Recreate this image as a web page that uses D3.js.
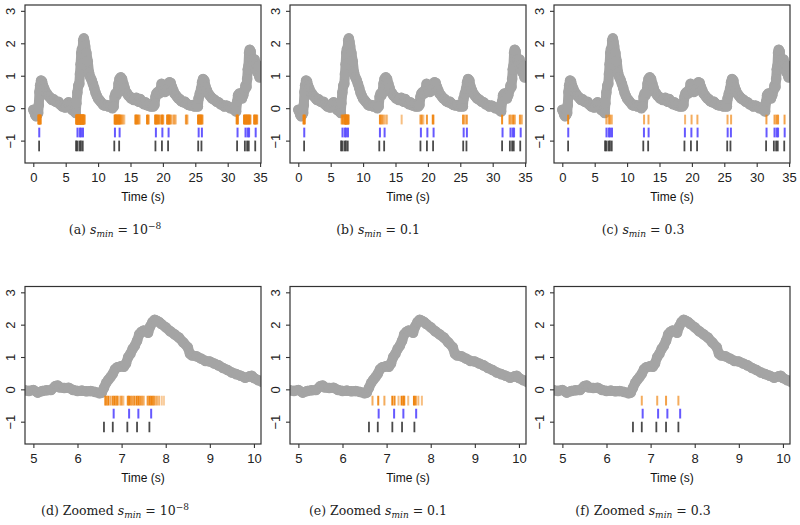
<!DOCTYPE html>
<html><head><meta charset="utf-8">
<script src="https://cdn.jsdelivr.net/npm/d3@7"></script>
<style>body{margin:0;background:#fff}</style>
</head><body><svg id="chart" width="800" height="525"></svg>
<script>
// ---------- data ----------
const fullTime = [0.0,0.15,0.3,0.45,0.6,0.75,0.85,0.95,1.05,1.2,1.35,1.5,1.7,1.9,2.1,2.3,2.5,2.7,2.9,3.1,3.3,3.5,3.7,3.9,4.1,4.3,4.5,4.7,4.9,5.1,5.3,5.45,5.6,5.8,6.0,6.2,6.4,6.55,6.65,6.8,6.95,7.1,7.2,7.3,7.4,7.5,7.6,7.7,7.8,7.9,8.0,8.2,8.4,8.6,8.8,9.0,9.2,9.4,9.6,9.8,10.0,10.2,10.4,10.6,10.8,11.0,11.3,11.6,11.9,12.2,12.4,12.55,12.7,12.85,13.0,13.15,13.3,13.5,13.7,13.9,14.1,14.3,14.5,14.7,14.9,15.1,15.3,15.5,15.7,15.9,16.1,16.3,16.5,16.7,16.9,17.1,17.3,17.5,17.7,17.9,18.1,18.3,18.5,18.7,18.85,19.0,19.2,19.4,19.6,19.8,19.95,20.1,20.3,20.5,20.7,20.85,21.0,21.2,21.4,21.6,21.8,22.0,22.2,22.4,22.6,22.8,23.0,23.2,23.4,23.6,23.8,24.0,24.3,24.6,24.9,25.2,25.4,25.5,25.7,25.9,26.05,26.2,26.4,26.6,26.8,27.0,27.2,27.4,27.6,27.8,28.0,28.3,28.6,28.9,29.2,29.5,29.8,30.1,30.4,30.7,31.0,31.3,31.45,31.6,31.8,32.0,32.2,32.4,32.6,32.75,32.9,33.0,33.1,33.2,33.3,33.4,33.55,33.7,33.85,34.0,34.15,34.3,34.45,34.6,34.75,34.9,35.0];
const fullValue = [-0.05,-0.1,-0.2,-0.25,-0.2,-0.15,0.1,0.5,0.7,0.85,0.82,0.7,0.6,0.5,0.45,0.38,0.35,0.3,0.25,0.28,0.22,0.2,0.18,0.2,0.12,0.1,0.05,0.08,0.02,0.05,0.15,0.18,0.08,0.0,-0.05,-0.08,-0.1,-0.15,0.15,0.48,0.7,0.75,1.05,1.35,1.7,1.82,1.8,2.08,2.15,2.05,1.92,1.7,1.45,1.1,0.95,0.87,0.75,0.62,0.48,0.38,0.3,0.25,0.2,0.15,0.1,0.08,0.1,0.05,0.08,0.0,0.05,0.35,0.45,0.4,0.5,0.75,0.9,0.95,0.9,0.75,0.62,0.5,0.45,0.38,0.35,0.3,0.32,0.25,0.28,0.32,0.22,0.2,0.28,0.18,0.15,0.12,0.18,0.1,0.08,0.12,0.05,0.08,0.05,0.1,0.35,0.45,0.5,0.45,0.55,0.75,0.72,0.55,0.5,0.6,0.55,0.72,0.8,0.78,0.65,0.55,0.45,0.4,0.35,0.3,0.28,0.22,0.2,0.18,0.2,0.15,0.12,0.1,0.08,0.1,0.05,0.08,0.05,0.3,0.45,0.6,0.8,0.9,0.85,0.65,0.55,0.45,0.4,0.35,0.3,0.28,0.25,0.2,0.18,0.12,0.1,0.05,0.08,0.05,0.0,0.02,-0.05,-0.1,0.2,0.4,0.45,0.35,0.3,0.4,0.55,0.7,0.65,0.9,1.2,1.3,1.7,1.8,1.75,1.4,1.5,1.35,1.5,1.2,1.35,1.1,1.3,0.95,1.0];

const zoomTime = [4.8,4.9,5.0,5.1,5.2,5.3,5.4,5.5,5.55,5.6,5.7,5.8,5.9,6.0,6.1,6.2,6.3,6.4,6.5,6.55,6.6,6.65,6.7,6.75,6.8,6.85,6.9,6.95,7.0,7.05,7.1,7.15,7.2,7.25,7.3,7.35,7.4,7.45,7.5,7.55,7.6,7.65,7.7,7.75,7.8,7.85,7.9,8.0,8.1,8.2,8.3,8.4,8.5,8.55,8.6,8.7,8.8,8.9,9.0,9.1,9.2,9.3,9.4,9.5,9.6,9.7,9.8,9.9,9.95,10.0,10.1,10.2];
const zoomValue = [-0.03,-0.05,-0.02,-0.1,-0.05,-0.03,-0.02,0.1,0.12,0.06,0.04,0.05,-0.02,-0.05,-0.04,-0.06,-0.05,-0.08,-0.12,-0.1,0.05,0.2,0.3,0.38,0.48,0.62,0.68,0.7,0.72,0.7,0.8,1.0,1.1,1.25,1.35,1.5,1.7,1.78,1.82,1.8,1.75,1.95,2.08,2.15,2.12,2.08,2.02,1.92,1.8,1.7,1.6,1.45,1.3,1.1,1.05,1.02,0.95,0.88,0.86,0.8,0.74,0.66,0.6,0.52,0.47,0.42,0.36,0.4,0.42,0.35,0.28,0.22];

// black: reference spikes (same in every panel)
const spikesBlack = [0.9,6.6,6.8,7.13,7.35,7.63,12.5,13.25,18.85,19.85,20.8,25.45,25.95,31.45,32.65,33.0,33.25,34.25];
// blue: second method (same in every panel)
const spikesBlue = [0.92,6.82,7.17,7.38,7.67,12.6,13.32,18.92,19.92,20.88,25.52,26.02,31.52,32.75,33.08,33.3,34.32];

// orange: estimated spikes for s_min = 1e-8, 0.1, 0.3, with amplitudes
const spikesOrangeA = [0.78,0.85,0.92,1.0,1.08,1.15,
 6.63,6.66,6.70,6.75,6.80,6.84,6.88,6.91,6.97,7.00,7.04,7.14,7.17,7.21,7.25,7.29,7.34,7.38,7.42,7.46,7.50,7.59,7.63,7.67,7.71,7.75,7.80,7.85,7.91,7.96,
 12.55,12.62,12.7,12.78,12.86,12.95,13.05,13.15,13.22,13.3,13.38,13.5,13.62,13.75,13.9,14.05,
 15.75,15.85,15.95,16.1,16.25,16.4,17.55,17.68,17.8,
 18.8,18.9,19.0,19.1,19.25,19.4,19.55,19.8,19.9,20.05,
 20.65,20.75,20.85,20.95,21.05,21.15,21.3,21.6,21.72,21.85,22.0,
 23.55,23.68,23.8,25.42,25.52,25.62,25.72,25.82,25.92,26.02,26.12,
 31.38,31.48,31.58,32.52,32.62,32.72,32.82,32.92,33.02,33.12,33.22,33.32,33.42,33.52,
 34.08,34.18,34.28,34.42,34.55];
const ampOrangeA = [0.9,1,0.9,1,0.8,0.7,
 0.9,0.8,1,0.6,0.9,1,0.8,0.9,0.5,0.7,0.4,0.9,1,0.8,0.7,0.9,1,1,0.8,0.7,0.6,0.8,1,1,0.9,0.8,0.6,0.5,0.3,0.25,
 0.9,1,0.8,0.9,1,0.7,0.8,0.9,0.6,0.9,0.7,0.5,0.6,0.4,0.3,0.3,
 0.9,0.8,0.7,0.9,0.6,0.5,0.9,0.8,0.7,
 0.9,1,0.8,0.7,0.9,0.6,0.5,0.9,1,0.7,
 0.9,1,0.8,0.9,0.7,0.6,0.5,0.4,0.3,0.35,0.3,
 0.7,0.5,0.4,0.9,1,0.9,0.8,1,0.9,0.7,0.6,
 0.9,1,0.8,0.9,1,0.8,0.9,1,0.9,0.8,0.9,1,0.7,0.6,
 0.9,1,0.8,0.9,0.7];

const spikesOrangeB = [0.8,0.9,1.02,
 6.68,6.81,6.95,7.13,7.18,7.27,7.34,7.38,7.40,7.49,7.62,7.66,7.72,7.80,
 12.6,12.8,12.96,13.2,13.48,13.7,15.95,
 18.85,19.05,19.3,19.85,20.75,20.85,
 25.42,25.68,26.0,31.45,32.6,32.85,33.15,33.4,34.2,34.48];
const ampOrangeB = [0.9,1,0.7,
 0.6,0.9,0.6,1,0.9,0.4,1,1,0.9,0.4,1,0.9,0.45,0.4,
 0.9,0.6,0.7,0.5,0.4,0.35,0.4,
 0.7,0.8,0.4,0.8,0.9,0.8,
 0.8,0.6,0.8,0.9,0.8,0.6,0.9,0.7,0.8,0.6];

const spikesOrangeC = [0.9,6.8,7.15,7.35,7.63,12.62,13.3,18.95,19.95,20.85,25.5,26.05,31.5,32.75,33.05,33.3,34.3];
const ampOrangeC = [0.9,0.6,0.6,0.7,0.6,0.6,0.6,0.5,0.6,0.6,0.6,0.6,0.7,0.7,0.8,0.8,0.7];

const fullTicks = [0,5,10,15,20,25,30,35];
const zoomTicks = [5,6,7,8,9,10];
const yTicks = [-1,0,1,2,3];
const captionLabels = ["(a)","(b)","(c)","(d) Zoomed","(e) Zoomed","(f) Zoomed"];
const captionValues = ["10","0.1","0.3","10","0.1","0.3"];
const captionExps = ["−8","","","−8","",""];

// ---------- layout ----------
const svg = d3.select("#chart");
const colLeft = [25, 290, 554];
const boxW = 236;
const rows = [{top: 5, h: 158}, {top: 286.5, h: 157.5}];
const capCenter = [115, 378, 643];
const orangeSets = [[spikesOrangeA, ampOrangeA],[spikesOrangeB, ampOrangeB],[spikesOrangeC, ampOrangeC]];
const opac = d3.scaleLinear().domain([0,1]).range([0.2,1]);
const sans = "Liberation Sans, Arial, sans-serif";

let panelIndex = 0;
rows.forEach((row, ri) => {
  colLeft.forEach((left, ci) => {
    const idx = panelIndex++;
    const zoomed = ri === 1;
    const x = d3.scaleLinear().domain(zoomed ? [4.81, 10.16] : [-1.28, 35.14]).range([left, left + boxW]);
    const y = d3.scaleLinear().domain([-1.69, 3.18]).range([row.top + row.h, row.top]);
    const g = svg.append("g");
    const clipId = "clip" + idx;
    svg.append("clipPath").attr("id", clipId).append("rect")
      .attr("x", left).attr("y", row.top).attr("width", boxW).attr("height", row.h);
    const plot = g.append("g").attr("clip-path", `url(#${clipId})`);

    const tArr = zoomed ? zoomTime : fullTime;
    const vArr = zoomed ? zoomValue : fullValue;
    const pts = tArr.map((t, i) => [t, vArr[i]]);
    const line = d3.line().x(d => x(d[0])).y(d => y(d[1]));
    plot.append("path").attr("d", line(pts))
      .attr("fill", "none").attr("stroke", "#a4a4a4").attr("stroke-width", 10)
      .attr("stroke-linejoin", "round").attr("stroke-linecap", "round");
    plot.selectAll("circle.pt").data(pts).join("circle")
      .attr("cx", d => x(d[0])).attr("cy", d => y(d[1])).attr("r", 5.3).attr("fill", "#a4a4a4");

    const [oT, oA] = orangeSets[ci];
    const dom = x.domain();
    plot.selectAll("line.or").data(oT.map((t,i)=>[t,oA[i]]).filter(d => d[0]>=dom[0] && d[0]<=dom[1])).join("line")
      .attr("x1", d => x(d[0])).attr("x2", d => x(d[0]))
      .attr("y1", y(-0.2)).attr("y2", y(-0.5))
      .attr("stroke", "#ef8410").attr("stroke-width", 2).attr("stroke-opacity", d => opac(d[1]));
    plot.selectAll("line.bl").data(spikesBlue.filter(t => t>=dom[0] && t<=dom[1])).join("line")
      .attr("x1", d => x(d)).attr("x2", d => x(d))
      .attr("y1", y(-0.6)).attr("y2", y(-0.9))
      .attr("stroke", "#4b3cff").attr("stroke-width", 2).attr("stroke-opacity", 0.85);
    plot.selectAll("line.bk").data(spikesBlack.filter(t => t>=dom[0] && t<=dom[1])).join("line")
      .attr("x1", d => x(d)).attr("x2", d => x(d))
      .attr("y1", y(-1.0)).attr("y2", y(-1.33))
      .attr("stroke", "#2a2a2a").attr("stroke-width", 1.8).attr("stroke-opacity", 0.85);

    // box
    g.append("rect").attr("x", left).attr("y", row.top).attr("width", boxW).attr("height", row.h)
      .attr("fill", "none").attr("stroke", "#333").attr("stroke-width", 1.2);

    const bottom = row.top + row.h;
    // x axis
    const xa = g.append("g").attr("transform", `translate(0,${bottom})`)
      .call(d3.axisBottom(x).tickValues(zoomed ? zoomTicks : fullTicks).tickFormat(d3.format("d"))
        .tickSize(4).tickPadding(6).tickSizeOuter(0));
    xa.select(".domain").remove();
    xa.selectAll("line").attr("stroke", "#333").attr("stroke-width", 1.1);
    xa.selectAll("text").attr("font-family", sans).attr("font-size", 13).attr("fill", "#222");

    // y axis (rotated labels)
    const ya = g.append("g").attr("transform", `translate(${left},0)`)
      .call(d3.axisLeft(y).tickValues(yTicks).tickSize(4).tickSizeOuter(0).tickFormat(d => d < 0 ? "−" + Math.abs(d) : String(d)));
    ya.select(".domain").remove();
    ya.selectAll("line").attr("stroke", "#333").attr("stroke-width", 1.1);
    ya.selectAll("text").attr("font-family", sans).attr("font-size", 13).attr("fill", "#222")
      .attr("transform", "rotate(-90)").attr("text-anchor", "middle")
      .attr("x", 0).attr("y", -10).attr("dy", 0);

    // axis title
    g.append("text").attr("x", left + boxW/2).attr("y", bottom + 38)
      .attr("text-anchor", "middle").attr("font-family", sans)
      .attr("font-size", 12).attr("fill", "#111").text("Time (s)");

    // caption
    const cap = g.append("text").attr("x", capCenter[ci]).attr("y", bottom + 71)
      .attr("text-anchor", "middle").attr("font-family", "DejaVu Serif, serif")
      .attr("font-size", 12.5).attr("fill", "#222");
    cap.append("tspan").text(captionLabels[idx] + " ");
    cap.append("tspan").attr("font-style", "italic").text("s");
    cap.append("tspan").attr("font-style", "italic").attr("font-size", 9).attr("dy", 3).text("min");
    cap.append("tspan").attr("dy", -3).text(" = " + captionValues[idx]);
    if (captionExps[idx]) cap.append("tspan").attr("font-size", 9).attr("dy", -5).text(captionExps[idx]);
  });
});
</script>
</body></html>
